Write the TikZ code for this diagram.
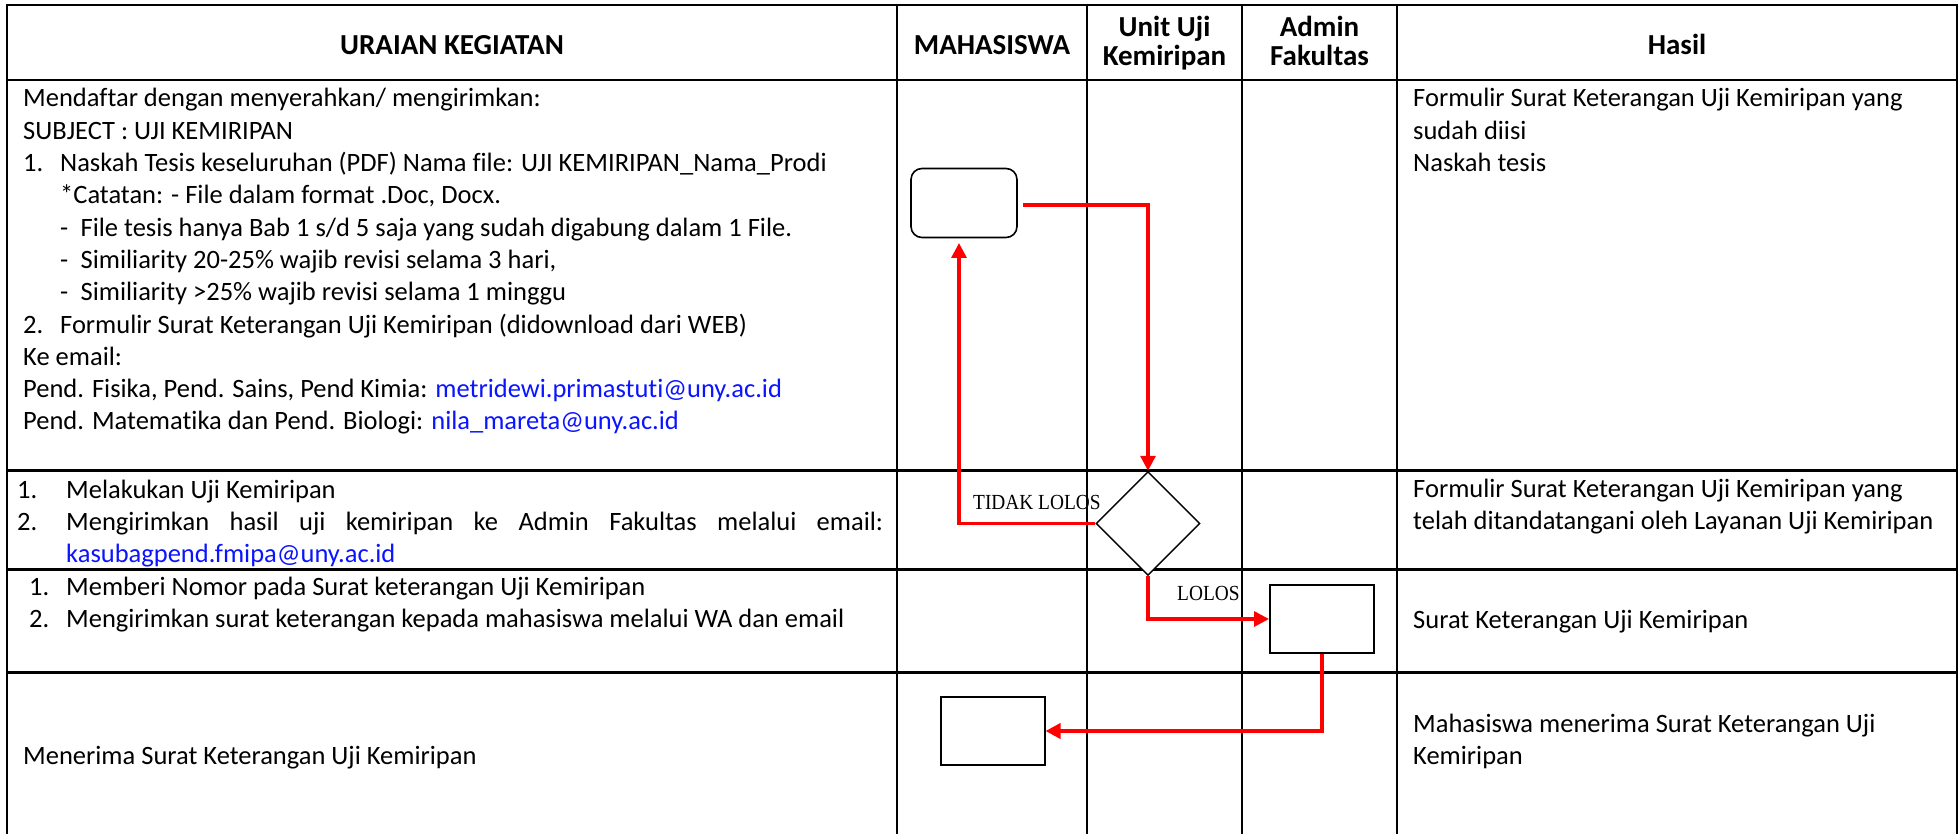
\documentclass[tikz,border=0pt]{standalone}
\usepackage{fontspec}
\setmainfont[Ligatures=NoCommon]{Carlito}
\newfontfamily\lblfont[FakeStretch=0.9]{Liberation Serif}
\usetikzlibrary{shapes.geometric,arrows.meta}
\definecolor{lnk}{RGB}{10,20,255}
\definecolor{arr}{RGB}{255,0,0}
\newcommand{\bodyfont}{\fontsize{26.5pt}{32.3pt}\selectfont}
\begin{document}
\begin{tikzpicture}[x=1pt,y=-1pt,
  hline/.style={line width=2.8pt},
  vline/.style={line width=2.2pt},
  txt/.style={anchor=base west,inner sep=0pt,font=\bodyfont},
  hdr/.style={anchor=base,inner sep=0pt,font=\fontsize{29pt}{30pt}\selectfont\bfseries},
  lbl/.style={anchor=base west,inner sep=0pt,font=\fontsize{21.5pt}{24pt}\selectfont\lblfont},
  rbox/.style={draw,line width=1.6pt,rounded corners=11pt,minimum width=106pt,minimum height=69pt,inner sep=0pt},
  sbox/.style={draw,line width=2pt,minimum width=104pt,minimum height=68pt,inner sep=0pt},
  dia/.style={draw,diamond,line width=1.4pt,minimum width=104pt,minimum height=104pt,inner sep=0pt},
  flow/.style={draw=arr,line width=3.2pt,-{Triangle[length=15pt,width=15pt]}},
  flowb/.style={draw=arr,line width=4.2pt,-{Triangle[length=15pt,width=15pt]}}]
\useasboundingbox (0,0) rectangle (1959,834);
% grid
\foreach \yy in {5,80,470.7,569.8,672.3} \draw[hline] (6,\yy) -- (1958,\yy);
\foreach \xx in {7,897,1087,1242,1397,1957} \draw[vline] (\xx,5) -- (\xx,834);
% header
\node[hdr] (h1) at (452,55) {URAIAN KEGIATAN};
\node[hdr] (h2) at (992,55) {MAHASISWA};
\node[hdr] (h3a) at (1164.5,36.5) {Unit Uji};
\node[hdr] (h3b) at (1164.5,66) {Kemiripan};
\node[hdr] (h4a) at (1319.5,36.5) {Admin};
\node[hdr] (h4b) at (1319.5,66) {Fakultas};
\node[hdr] (h5) at (1677,55) {Hasil};
% row 1 text
\node[txt] (r1) at (23,107) {\parbox[t]{870pt}{\bodyfont
Mendaftar dengan menyerahkan/ mengirimkan:\\
SUBJECT : UJI KEMIRIPAN\\
\makebox[37pt][l]{1.}Naskah Tesis keseluruhan (PDF) Nama file: UJI KEMIRIPAN\_Nama\_Prodi\\
\hspace*{37pt}*Catatan: - File dalam format .Doc, Docx.\\
\hspace*{37pt}\makebox[20.5pt][l]{-}File tesis hanya Bab 1 s/d 5 saja yang sudah digabung dalam 1 File.\\
\hspace*{37pt}\makebox[20.5pt][l]{-}Similiarity 20-25\% wajib revisi selama 3 hari,\\
\hspace*{37pt}\makebox[20.5pt][l]{-}Similiarity >25\% wajib revisi selama 1 minggu\\
\makebox[37pt][l]{2.}Formulir Surat Keterangan Uji Kemiripan (didownload dari WEB)\\
Ke email:\\
Pend. Fisika, Pend. Sains, Pend Kimia: {\color{lnk}metridewi.primastuti@uny.ac.id}\\
Pend. Matematika dan Pend. Biologi: {\color{lnk}nila\_mareta@uny.ac.id}}};
\node[txt] (s1) at (1413,107) {\parbox[t]{530pt}{\bodyfont
Formulir Surat Keterangan Uji Kemiripan yang\\
sudah diisi\\
Naskah tesis}};
% row 2 text
\node[txt] (r2) at (17,498) {\parbox[t]{880pt}{\bodyfont
\makebox[49pt][l]{1.}Melakukan Uji Kemiripan\\
\makebox[49pt][l]{2.}\makebox[817pt][s]{Mengirimkan hasil uji kemiripan ke Admin Fakultas melalui email:}\\
\hspace*{49pt}{\color{lnk}kasubagpend.fmipa@uny.ac.id}}};
\node[txt] (s2) at (1413,497) {\parbox[t]{545pt}{\bodyfont
Formulir Surat Keterangan Uji Kemiripan yang\\
telah ditandatangani oleh Layanan Uji Kemiripan}};
% row 3 text
\node[txt] (r3) at (29,595) {\parbox[t]{860pt}{\fontsize{26.5pt}{32.8pt}\selectfont
\makebox[37pt][l]{1.}Memberi Nomor pada Surat keterangan Uji Kemiripan\\
\makebox[37pt][l]{2.}Mengirimkan surat keterangan kepada mahasiswa melalui WA dan email}};
\node[txt] (s3) at (1413,628) {Surat Keterangan Uji Kemiripan};
% row 4 text
\node[txt] (r4) at (23,764) {Menerima Surat Keterangan Uji Kemiripan};
\node[txt] (s4) at (1413,732) {\parbox[t]{530pt}{\bodyfont
Mahasiswa menerima Surat Keterangan Uji\\
Kemiripan}};
% shapes
\node[rbox,fill=white] (b1) at (964,203) {};
\node[dia,fill=white] (d1) at (1148,523.5) {};
\node[sbox,fill=white] (b2) at (1322,619) {};
\node[sbox,fill=white] (b3) at (992.5,731) {};
\coordinate (c0) at (1023,205);
\coordinate (c1) at (959,243);
% connectors
\draw[flow] (c0) -| (d1.north);
\draw[flow] (d1.west) -| (c1);
\draw[flow] (d1.south) |- (b2.west);
\draw[flowb] (b2.south) |- (b3.east);
% labels
\node[lbl] (t1) at (973,509.3) {TIDAK LOLOS};
\node[lbl] (t2) at (1177,600.7) {LOLOS};
\end{tikzpicture}
\end{document}
